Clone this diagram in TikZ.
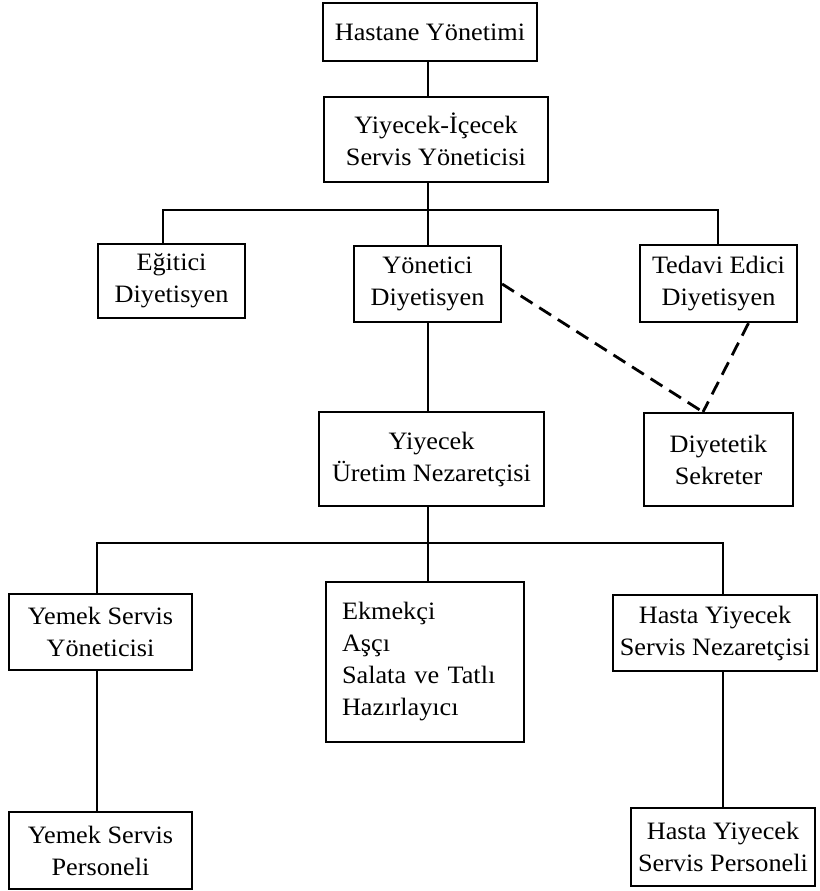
\documentclass[tikz,border=0pt]{standalone}
\usepackage{fontspec}
\setmainfont{Liberation Serif}[FakeStretch=1.05]
\usetikzlibrary{calc}
\begin{document}
\begin{tikzpicture}[x=1pt,y=-1pt,
  box/.style={draw=black, line width=2.3pt, inner sep=0pt, align=center,
    font=\fontsize{25}{32}\selectfont},
  link/.style={line width=2pt, line cap=rect},
  dotlink/.style={line width=2.8pt, dash pattern=on 14pt off 8pt}]
\useasboundingbox (0,0) rectangle (819,891);

% management levels
\node[box, minimum width=214pt, minimum height=58pt] (hast) at (430,32) {Hastane Yönetimi};
\node[box, minimum width=224pt, minimum height=85pt] (yic) at (436,139.5) {Yiyecek-İçecek\\Servis Yöneticisi};

% dietitians
\node[box, minimum width=147pt, minimum height=74pt] (egit) at (171.5,281) {Eğitici\\Diyetisyen};
\node[box, minimum width=147pt, minimum height=76pt] (yon) at (427.5,284) {Yönetici\\Diyetisyen};
\node[box, minimum width=157pt, minimum height=77pt] (ted) at (718.5,283.5) {Tedavi Edici\\Diyetisyen};

% production and secretary
\node[box, minimum width=225pt, minimum height=94pt] (uret) at (431.5,459) {Yiyecek\\Üretim Nezaretçisi};
\node[box, minimum width=149pt, minimum height=93pt] (diyt) at (718.5,459.5) {Diyetetik\\Sekreter};

% service staff
\node[box, minimum width=183pt, minimum height=76pt] (yemy) at (100.5,632) {Yemek Servis\\Yöneticisi};
\node[box, text width=166pt, inner xsep=16pt, align=left, minimum height=160pt] (ekm) at (425,662) {Ekmekçi\\Aşçı\\Salata ve Tatlı\\Hazırlayıcı};
\node[box, minimum width=204pt, minimum height=76pt] (hyn) at (715,633) {Hasta Yiyecek\\Servis Nezaretçisi};
\node[box, minimum width=183pt, minimum height=77pt] (yemp) at (100.5,850.5) {Yemek Servis\\Personeli};
\node[box, minimum width=184pt, minimum height=78pt] (hyp) at (723,847) {Hasta Yiyecek\\Servis Personeli};

% branch points
\coordinate (b1) at (428,210);
\coordinate (b1l) at (163,210);
\coordinate (b1r) at (718,210);
\coordinate (b2) at (428,543);
\coordinate (b2l) at (97,543);
\coordinate (b2r) at (723,543);
\coordinate (dm) at (703,412);

% solid connectors
\draw[link] (hast.south -| b1) -- (yic.north -| b1);
\draw[link] (yic.south -| b1) -- (b1);
\draw[link] (egit.north -| b1l) -- (b1l) -- (b1r) -- (ted.north -| b1r);
\draw[link] (b1) -- (yon.north -| b1);
\draw[link] (yon.south -| b1) -- (uret.north -| b1);
\draw[link] (uret.south -| b2) -- (b2);
\draw[link] (yemy.north -| b2l) -- (b2l) -- (b2r) -- (hyn.north -| b2r);
\draw[link] (b2) -- (ekm.north -| b2);
\draw[link] (yemy.south -| b2l) -- (yemp.north -| b2l);
\draw[link] (hyn.south -| b2r) -- (hyp.north -| b2r);

% dashed links to the secretary
\draw[dotlink] (yon.east) -- (dm);
\draw[dotlink] ($(ted.south)+(30,0)$) -- (dm);
\end{tikzpicture}
\end{document}
